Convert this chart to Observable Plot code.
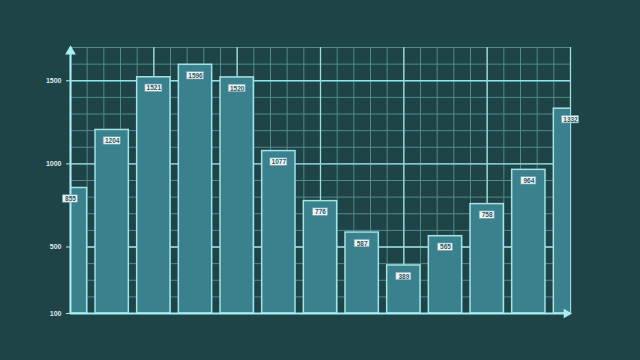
<!DOCTYPE html>
<html>
<head>
<meta charset="utf-8">
<script src="https://cdn.jsdelivr.net/npm/d3@7"></script>
<script src="https://cdn.jsdelivr.net/npm/@observablehq/plot@0.6"></script>
<style>
  html, body { margin: 0; padding: 0; background: #1e4448; }
  #chart { width: 640px; height: 360px; }
</style>
</head>
<body>
<div id="chart"></div>
<script>
// Data
const categories = ["1","2","3","4","5","6","7","8","9","10","11","12","13"];
const values = [855, 1204, 1521, 1596, 1520, 1077, 776, 587, 389, 565, 758, 964, 1332];
const yTickLabels = [100, 500, 1000, 1500];
const yMajorGrid = [500, 1000, 1500];

const data = categories.map((c, i) => ({i, c, v: values[i], label: String(values[i])}));

const yMin = 100, yMax = 1700;
const minorY = d3.range(yMin, yMax + 1, 100);
const minorX = d3.range(0, 12.001, 0.4);
const majorX = d3.range(0, 12.001, 2);

const bg = "#1e4448";
const barFill = "#3a818d";
const barStroke = "#9fe4e8";
const minorGrid = "#4f8b8d";
const majorGrid = "#9adfe2";
const axisColor = "#a8eef2";

const chart = Plot.plot({
  width: 640,
  height: 360,
  marginLeft: 70,
  marginRight: 70,
  marginTop: 47,
  marginBottom: 47,
  style: {background: bg, overflow: "visible"},
  x: {domain: [0, 12], axis: null},
  y: {domain: [yMin, yMax], axis: null},
  marks: [
    Plot.ruleY(minorY, {stroke: minorGrid, strokeWidth: 1, x1: 0, x2: 12}),
    Plot.ruleX(minorX, {stroke: minorGrid, strokeWidth: 1, y1: yMin, y2: yMax}),
    Plot.ruleY(yMajorGrid, {stroke: majorGrid, strokeWidth: 1.3, x1: 0, x2: 12}),
    Plot.ruleX(majorX, {stroke: majorGrid, strokeWidth: 1.3, y1: yMin, y2: yMax}),
    Plot.rectY(data, {
      x1: d => d.i - 0.4, x2: d => d.i + 0.4, y1: yMin, y2: "v",
      fill: barFill, stroke: barStroke, strokeWidth: 1.5, clip: true
    }),
    Plot.axisY({
      ticks: yTickLabels, tickFormat: d => String(d), tickSize: 4, tickPadding: 5, fontSize: 7, fontWeight: "bold",
      color: "#dfe9ea", stroke: axisColor, fontFamily: "Liberation Sans, Arial, sans-serif"
    }),
    // axes lines
    Plot.ruleX([0], {y1: yMin, y2: yMax, stroke: axisColor, strokeWidth: 2}),
    Plot.ruleY([yMin], {x1: 0, x2: 12, stroke: axisColor, strokeWidth: 2}),
    Plot.dot([{x: 0, y: yMax}], {x: "x", y: "y", symbol: "triangle", r: 4, fill: axisColor, stroke: null, dy: 4}),
    Plot.dot([{x: 12, y: yMin}], {x: "x", y: "y", symbol: "triangle", r: 3.6, fill: axisColor, stroke: null, rotate: 90, dx: -4}),
    // value label boxes
    Plot.rect(data.filter(d => d.label.length === 3), {
      x1: "i", x2: "i", y1: "v", y2: "v", insetLeft: -7.5, insetRight: -7.5,
      insetTop: -3.7, insetBottom: -3.7, dy: 11, fill: "#eef5f6", stroke: "#6fa5ad", strokeWidth: 0.6
    }),
    Plot.rect(data.filter(d => d.label.length === 4), {
      x1: "i", x2: "i", y1: "v", y2: "v", insetLeft: -8.5, insetRight: -8.5,
      insetTop: -3.7, insetBottom: -3.7, dy: 11, fill: "#eef5f6", stroke: "#6fa5ad", strokeWidth: 0.6
    }),
    Plot.text(data, {
      x: "i", y: "v", text: "label", dy: 11, fontSize: 6.5, fill: "#2c5a63",
      fontFamily: "Liberation Sans, Arial, sans-serif", fontWeight: "bold"
    })
  ]
});
document.getElementById("chart").appendChild(chart);
</script>
</body>
</html>
